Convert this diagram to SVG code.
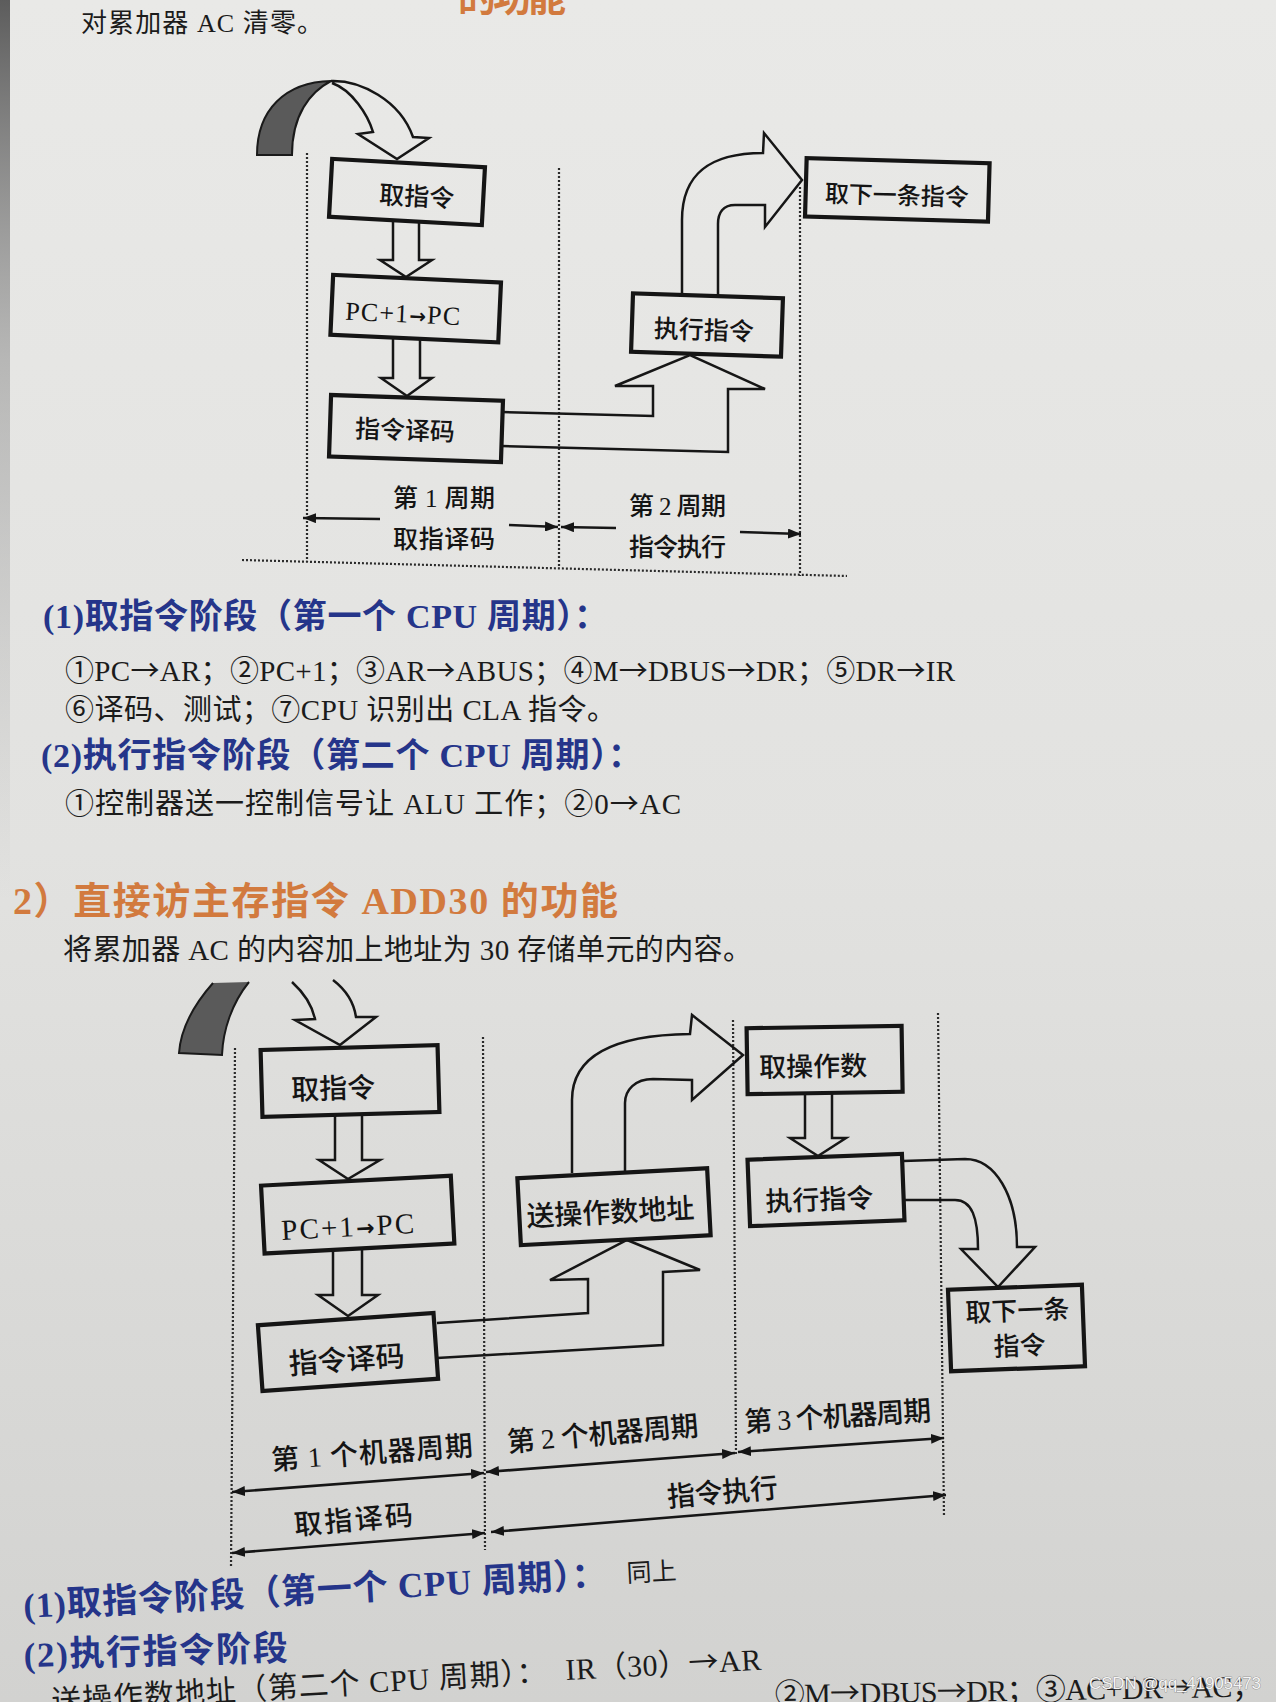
<svg xmlns="http://www.w3.org/2000/svg" width="1276" height="1702" viewBox="0 0 1276 1702">
<defs>
<linearGradient id="paper" x1="0" y1="0" x2="0" y2="1">
<stop offset="0" stop-color="#e9e9e7"/>
<stop offset="0.5" stop-color="#e2e2e0"/>
<stop offset="1" stop-color="#d2d2d0"/>
</linearGradient>
<linearGradient id="edge" x1="0" y1="0" x2="0" y2="1">
<stop offset="0" stop-color="#555" stop-opacity="0.95"/>
<stop offset="0.4" stop-color="#888" stop-opacity="0.5"/>
<stop offset="1" stop-color="#999" stop-opacity="0"/>
</linearGradient>
<marker id="ah" viewBox="0 0 13 10" refX="13" refY="5" markerWidth="13" markerHeight="10" markerUnits="userSpaceOnUse" orient="auto-start-reverse">
<path d="M0,0 L13,5 L0,10 Z" fill="#151515"/>
</marker>
<style>
.box{fill:none;stroke:#151515;stroke-width:4.2}
.harr{fill:none;stroke:#161616;stroke-width:2.5;stroke-linejoin:miter}
.dot{fill:none;stroke:#2a2a2a;stroke-width:2.2;stroke-dasharray:2 2}
.tl{fill:none;stroke:#161616;stroke-width:2.6}
.lbl{font-family:"Liberation Serif","Noto Sans CJK SC",serif;font-weight:500;fill:#141414}
.body{font-family:"Liberation Serif","Noto Sans CJK SC",serif;fill:#1b1b1b}
.blue{font-family:"Liberation Serif","Noto Sans CJK SC",serif;font-weight:bold;fill:#25358a}
.orange{font-family:"Liberation Serif","Noto Sans CJK SC",serif;font-weight:bold;fill:#d27a3e}
.gray{fill:#5a5a5a;stroke:#1a1a1a;stroke-width:2}
.ar{font-family:"Noto Sans CJK SC",sans-serif}
.bar{font-family:"DejaVu Sans",sans-serif;font-weight:bold}
</style>
</defs>

<rect x="0" y="0" width="1276" height="1702" fill="url(#paper)"/>
<rect x="0" y="0" width="10" height="900" fill="url(#edge)"/>

<!-- page texts -->
<g id="texts">
<text class="orange" x="458" y="11" font-size="38" textLength="108">的功能</text>
<text class="body" x="81" y="32" font-size="26" textLength="242">对累加器 AC 清零。</text>
<text class="blue" x="43" y="628" font-size="34" textLength="565">(1)取指令阶段（第一个 CPU 周期）：</text>
<text class="body" x="65" y="681" font-size="29" textLength="890">①PC<tspan class="ar">→</tspan>AR；②PC+1；③AR<tspan class="ar">→</tspan>ABUS；④M<tspan class="ar">→</tspan>DBUS<tspan class="ar">→</tspan>DR；⑤DR<tspan class="ar">→</tspan>IR</text>
<text class="body" x="65" y="720" font-size="29" textLength="551">⑥译码、测试；⑦CPU 识别出 CLA 指令。</text>
<text class="blue" x="41" y="767" font-size="34" textLength="601">(2)执行指令阶段（第二个 CPU 周期）：</text>
<text class="body" x="65" y="814" font-size="29" textLength="616">①控制器送一控制信号让 ALU 工作；②0<tspan class="ar">→</tspan>AC</text>
<text class="orange" x="13" y="914" font-size="38" textLength="605">2）直接访主存指令 ADD30 的功能</text>
<text class="body" x="63" y="960" font-size="29" textLength="689">将累加器 AC 的内容加上地址为 30 存储单元的内容。</text>

<text class="blue" x="24" y="1618" font-size="35" textLength="584" transform="rotate(-3.1 24 1618)">(1)取指令阶段（第一个 CPU 周期）：</text>
<text class="body" x="627" y="1582" font-size="25" transform="rotate(-3 627 1582)">同上</text>
<text class="blue" x="24" y="1667" font-size="35" textLength="264" transform="rotate(-1.5 24 1667)">(2)执行指令阶段</text>
<text class="body" x="52" y="1712" font-size="30" textLength="496" transform="rotate(-3.5 52 1712)">送操作数地址（第二个 CPU 周期）：</text>
<text class="body" x="566" y="1680" font-size="30" textLength="196" transform="rotate(-3 566 1680)">IR（30）<tspan class="ar">→</tspan>AR</text>
<text class="body" x="775" y="1705" font-size="30" textLength="487" transform="rotate(-1 775 1705)">②M<tspan class="ar">→</tspan>DBUS<tspan class="ar">→</tspan>DR；③AC+DR<tspan class="ar">→</tspan>AC；</text>
<text x="1089" y="1689" font-family="Liberation Sans, sans-serif" font-size="17" textLength="172" fill="#f4f4f4" stroke="#6a6a6a" stroke-width="0.6" paint-order="stroke">CSDN @qq_41905473</text>
</g>

<!-- ===== Top diagram ===== -->
<g id="top-grid">
<line class="dot" x1="307" y1="153" x2="307" y2="562"/>
<line class="dot" x1="559" y1="168" x2="559" y2="568"/>
<line class="dot" x1="800" y1="187" x2="800" y2="576"/>
<line class="dot" x1="242" y1="560" x2="847" y2="576"/>
</g>

<g id="t-fetch" transform="rotate(3.1 407 192)">
<rect class="box" x="330.5" y="163" width="153" height="58"/>
<text class="lbl" x="417" y="205" font-size="25" text-anchor="middle">取指令</text>
</g>
<g id="t-pc" transform="rotate(2.6 415.7 308.6)">
<rect class="box" x="331.7" y="278.6" width="168" height="60"/>
<text class="lbl" x="403" y="323" font-size="26" text-anchor="middle" textLength="115">PC+1<tspan class="bar" font-size="20">→</tspan>PC</text>
</g>
<g id="t-decode" transform="rotate(1.9 416 428.6)">
<rect class="box" x="330" y="397.8" width="172" height="61.5"/>
<text class="lbl" x="405" y="439.5" font-size="25" text-anchor="middle">指令译码</text>
</g>
<g id="t-exec" transform="rotate(1.9 707 325)">
<rect class="box" x="632" y="295.8" width="150" height="58.4"/>
<text class="lbl" x="704" y="339" font-size="25" text-anchor="middle">执行指令</text>
</g>
<g id="t-next" transform="rotate(1.6 897.3 189.8)">
<rect class="box" x="805.8" y="160.6" width="183" height="58.4"/>
<text class="lbl" x="897" y="204" font-size="24" text-anchor="middle">取下一条指令</text>
</g>

<g id="t-connectors">
<path class="gray" d="M257,155 C257,110 285,82 331,81 C310,92 292,115 292,155 Z"/>
<path class="harr" d="M331,81 C360,80 400,100 413,137 L429,138 L397,159 L358,134 L373,132 C368,115 352,90 332,83"/>
<path class="harr" d="M393,221 L393,260 L380,260 L406,277 L432,260 L419,260 L419,222"/>
<path class="harr" d="M393,338 L393,378 L381,378 L407,396 L432,378 L420,378 L420,339"/>
<path class="harr" d="M502,412 L653,416 L653,386 L615,386 L690,355 L765,389 L728,389 L728,452 L502,446"/>
<path class="harr" d="M682,294 L682,220 C682,172 712,153 763,153 L764,133 L802,180 L765,227 L765,205 L735,205 C723,205 718,213 718,224 L718,296"/>
<line class="tl" x1="380" y1="519" x2="303" y2="518" marker-end="url(#ah)"/>
<line class="tl" x1="509" y1="525" x2="558" y2="527" marker-end="url(#ah)"/>
<line class="tl" x1="616" y1="528" x2="561" y2="527" marker-end="url(#ah)"/>
<line class="tl" x1="740" y1="532" x2="801" y2="534" marker-end="url(#ah)"/>
</g>
<g id="t-timing">
<text class="lbl" x="393" y="507" font-size="25" textLength="102">第 1 周期</text>
<text class="lbl" x="393" y="548" font-size="25" textLength="102">取指译码</text>
<text class="lbl" x="629" y="515" font-size="25" textLength="97">第 2 周期</text>
<text class="lbl" x="629" y="556" font-size="25" textLength="97">指令执行</text>
</g>

<!-- ===== Bottom diagram ===== -->
<g id="b-grid">
<line class="dot" x1="235" y1="1048" x2="231" y2="1567"/>
<line class="dot" x1="483" y1="1037" x2="485" y2="1550"/>
<line class="dot" x1="733" y1="1020" x2="736" y2="1455"/>
<line class="dot" x1="938" y1="1013" x2="944" y2="1517"/>
</g>

<g id="b-fetch" transform="rotate(-1.6 350 1081)">
<rect class="box" x="261.5" y="1047.5" width="177" height="67"/>
<text class="lbl" x="333" y="1098" font-size="28" text-anchor="middle">取指令</text>
</g>
<g id="b-pc" transform="rotate(-3 357.7 1214.6)">
<rect class="box" x="262.7" y="1180.6" width="190" height="68"/>
<text class="lbl" x="347" y="1236" font-size="29" text-anchor="middle" textLength="133">PC+1<tspan class="bar" font-size="22">→</tspan>PC</text>
</g>
<g id="b-decode" transform="rotate(-4 348 1352)">
<rect class="box" x="260" y="1319" width="176" height="66"/>
<text class="lbl" x="346" y="1370" font-size="29" text-anchor="middle">指令译码</text>
</g>
<g id="b-addr" transform="rotate(-3 614 1206.7)">
<rect class="box" x="519" y="1173.2" width="190" height="67"/>
<text class="lbl" x="610" y="1222" font-size="28" text-anchor="middle">送操作数地址</text>
</g>
<g id="b-operand" transform="rotate(-0.9 824.6 1060)">
<rect class="box" x="747.1" y="1027" width="155" height="66"/>
<text class="lbl" x="813" y="1076" font-size="27" text-anchor="middle">取操作数</text>
</g>
<g id="b-exec" transform="rotate(-2.2 826 1190)">
<rect class="box" x="748.75" y="1156.75" width="154.5" height="66.5"/>
<text class="lbl" x="819" y="1209" font-size="27" text-anchor="middle">执行指令</text>
</g>
<g id="b-next" transform="rotate(-2.2 1016.5 1328)">
<rect class="box" x="949.5" y="1287.25" width="134" height="81.5"/>
<text class="lbl" x="1018" y="1320" font-size="26" text-anchor="middle">取下一条</text>
<text class="lbl" x="1019" y="1355" font-size="26" text-anchor="middle">指令</text>
</g>

<g id="b-connectors">
<path d="M213,983 C198,1000 181,1025 179,1053 L222,1055 C223,1030 232,1003 249,982 Z" fill="#5a5a5a"/>
<path d="M213,983 C198,1000 181,1025 179,1053 L222,1055 C223,1030 232,1003 249,982" fill="none" stroke="#1a1a1a" stroke-width="2"/>
<path class="harr" d="M292,982 C303,992 312,1005 315,1019 L295,1020 L340,1045 L376,1017 L356,1017 C354,1003 346,990 333,980"/>
<path class="harr" d="M335,1114 L335,1160 L319,1160 L348,1179 L380,1160 L362,1160 L362,1113"/>
<path class="harr" d="M333,1249 L333,1295 L318,1295 L348,1316 L378,1295 L362,1295 L362,1248"/>
<path class="harr" d="M437,1323 L588,1313 L588,1279 L550,1280 L627,1240 L700,1270 L663,1272 L663,1345 L437,1358"/>
<path class="harr" d="M572,1173 L572,1100 C572,1058 610,1035 690,1034 L692,1015 L743,1055 L692,1100 L692,1080 L653,1079 C635,1079 625,1090 625,1103 L625,1171"/>
<path class="harr" d="M805,1093 L805,1138 L790,1138 L818,1156 L846,1138 L832,1138 L832,1093"/>
<path class="harr" d="M903,1161 L965,1159 C995,1159 1017,1195 1017,1247 L1035,1247 L998,1287 L961,1249 L978,1249 C978,1218 972,1200 955,1200 L904,1200"/>
<line class="tl" x1="232" y1="1492" x2="484" y2="1473" marker-start="url(#ah)" marker-end="url(#ah)"/>
<line class="tl" x1="486" y1="1472" x2="735" y2="1453" marker-start="url(#ah)" marker-end="url(#ah)"/>
<line class="tl" x1="738" y1="1452" x2="944" y2="1438" marker-start="url(#ah)" marker-end="url(#ah)"/>
<line class="tl" x1="232" y1="1553" x2="485" y2="1533" marker-start="url(#ah)" marker-end="url(#ah)"/>
<line class="tl" x1="491" y1="1532" x2="946" y2="1495" marker-start="url(#ah)" marker-end="url(#ah)"/>
</g>
<g id="b-timing">
<text class="lbl" x="272" y="1470" font-size="28" textLength="202" transform="rotate(-4.2 272 1470)">第 1 个机器周期</text>
<text class="lbl" x="508" y="1452" font-size="28" textLength="192" transform="rotate(-5 508 1452)">第 2 个机器周期</text>
<text class="lbl" x="745" y="1432" font-size="28" textLength="187" transform="rotate(-3.6 745 1432)">第 3 个机器周期</text>
<text class="lbl" x="295" y="1535" font-size="28" textLength="119" transform="rotate(-5 295 1535)">取指译码</text>
<text class="lbl" x="668" y="1507" font-size="28" textLength="111" transform="rotate(-5 668 1507)">指令执行</text>
</g>
</svg>
